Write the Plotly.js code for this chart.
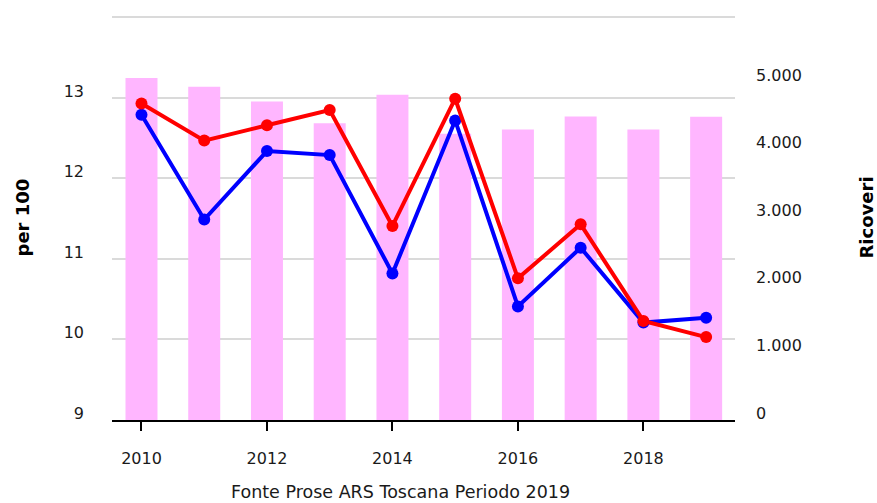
<!DOCTYPE html>
<html>
<head>
<meta charset="utf-8">
<script src="https://cdn.plot.ly/plotly-3.0.1.min.js"></script>
<style>html,body{margin:0;padding:0;background:#fff;}#chart{width:877px;height:503px;}</style>
</head>
<body>
<div id="chart"></div>
<script>
const years = [2010, 2011, 2012, 2013, 2014, 2015, 2016, 2017, 2018, 2019];
const ricoveri = [5060, 4930, 4710, 4390, 4810, 4235, 4295, 4490, 4295, 4485];
const blueSeries = [12.79, 11.49, 12.34, 12.29, 10.82, 12.72, 10.41, 11.14, 10.21, 10.27];
const redSeries = [12.93, 12.47, 12.66, 12.85, 11.41, 12.99, 10.76, 11.43, 10.23, 10.03];
const xTicks = [2010, 2012, 2014, 2016, 2018];
const leftTicks = [9, 10, 11, 12, 13, 14];
const leftTickText = ["9", "10", "11", "12", "13", ""];
const rightTicks = [0, 1000, 2000, 3000, 4000, 5000];
const leftTitle = "per 100";
const rightTitle = "Ricoveri";
const sourceText = "Fonte Prose ARS Toscana Periodo 2019";

const font = "DejaVu Sans, Verdana, sans-serif";
const textColor = "#1a1a1a";

const traces = [
  {
    type: "bar", x: years, y: ricoveri, yaxis: "y",
    width: 0.51, marker: {color: "#ffb6ff"}, hoverinfo: "x+y"
  },
  {
    type: "scatter", mode: "lines+markers", x: years, y: blueSeries, yaxis: "y2",
    line: {color: "#0000ff", width: 4}, marker: {color: "#0000ff", size: 12}
  },
  {
    type: "scatter", mode: "lines+markers", x: years, y: redSeries, yaxis: "y2",
    line: {color: "#ff0000", width: 4}, marker: {color: "#ff0000", size: 12}
  }
];

const layout = {
  width: 877, height: 503,
  margin: {l: 112, r: 142, t: 15, b: 83, pad: 0},
  paper_bgcolor: "#fff", plot_bgcolor: "#fff",
  showlegend: false,
  separators: ",.",
  font: {family: font, size: 16, color: textColor},
  xaxis: {
    range: [2009.53, 2019.46], tickvals: xTicks, ticktext: xTicks.map(String),
    showgrid: false, zeroline: false,
    showline: true, linecolor: "#000", linewidth: 2,
    ticks: "outside", ticklen: 9, tickwidth: 2, tickcolor: "#000",
    ticklabelstandoff: 14,
    tickfont: {family: font, size: 16, color: textColor}
  },
  yaxis: {
    side: "right", range: [0, 5990], tickvals: rightTicks,
    tickformat: ",d", showgrid: false, zeroline: false, showline: false,
    ticks: "", ticklabelstandoff: 20, ticklabelshift: -7,
    tickfont: {family: font, size: 16, color: textColor}
  },
  yaxis2: {
    overlaying: "y", side: "left", range: [9, 14.03],
    tickvals: leftTicks, ticktext: leftTickText,
    showgrid: true, gridcolor: "#dadada", gridwidth: 2,
    zeroline: false, showline: false, ticks: "",
    ticklabelstandoff: 27, ticklabelshift: -7,
    tickfont: {family: font, size: 16, color: textColor}
  },
  annotations: [
    {text: "<b>" + leftTitle + "</b>", xref: "paper", yref: "paper",
     x: (22 - 112) / 623, y: 0.5, xanchor: "center", yanchor: "middle",
     textangle: -90, showarrow: false, font: {family: font, size: 18, color: "#000"}},
    {text: "<b>" + rightTitle + "</b>", xref: "paper", yref: "paper",
     x: (866 - 112) / 623, y: 0.5, xanchor: "center", yanchor: "middle",
     textangle: -90, showarrow: false, font: {family: font, size: 18, color: "#000"}},
    {text: sourceText, xref: "paper", yref: "paper",
     x: (400 - 112) / 623, y: (420 - 492) / 405, xanchor: "center", yanchor: "middle",
     showarrow: false, font: {family: font, size: 17.5, color: textColor}}
  ]
};

Plotly.newPlot("chart", traces, layout, {displayModeBar: false, staticPlot: true});
</script>
</body>
</html>
